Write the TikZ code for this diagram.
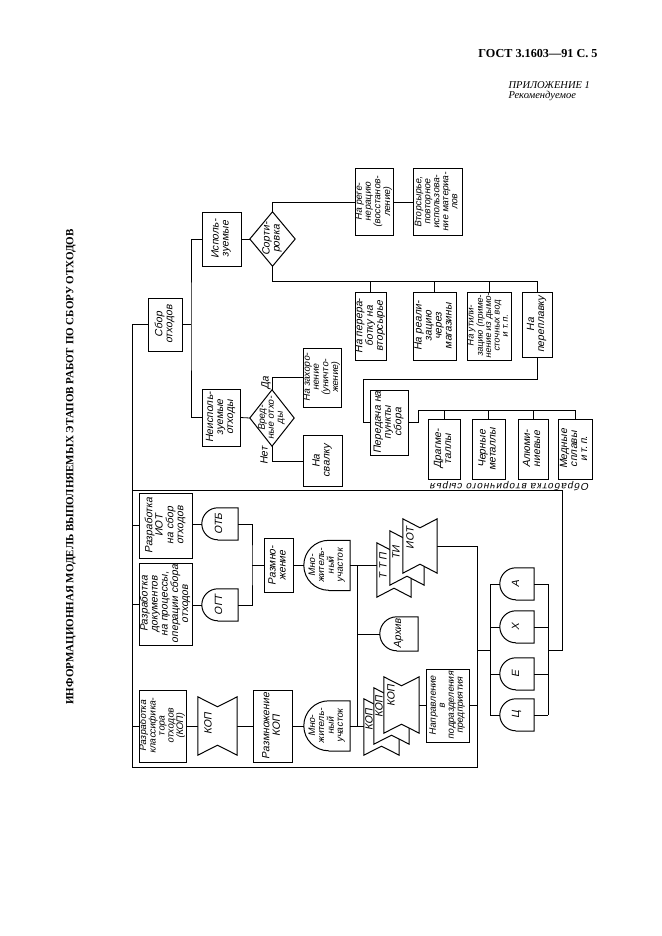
\documentclass[tikz,border=0pt]{standalone}
\usepackage{graphicx}
\usepackage{fontspec}
\setmainfont{Liberation Serif}
\newfontfamily\gost[FakeSlant=0.2]{Liberation Sans}
\newfontfamily\gostsp[FakeSlant=0.2,LetterSpace=10]{Liberation Sans}
\usetikzlibrary{calc}
\newcommand\rt[1]{\rotatebox{90}{\begin{tabular}{@{}c@{}}#1\end{tabular}}}
\newcommand\gateD[2]{\draw[shp] ([xshift=#2pt]#1.south west) -- (#1.south east) -- (#1.north east) -- ([xshift=#2pt]#1.north west) arc[start angle=90,end angle=270,radius=#2pt];}
\newcommand\bowsh[2]{\draw[shp,fill=white] (#1.north west) -- ([yshift=-#2pt]#1.north) -- (#1.north east) -- (#1.south east) -- ([yshift=#2pt]#1.south) -- (#1.south west) -- cycle;}
\newcommand\diam[1]{\draw[shp] (#1.north) -- (#1.east) -- (#1.south) -- (#1.west) -- cycle;}
\tikzset{
  ln/.style={line width=0.8pt},
  shp/.style={line width=1pt},
  box/.style={draw, line width=1pt, inner sep=0pt, font=\gost\fontsize{10.5}{10}\selectfont},
  bare/.style={inner sep=0pt, font=\gost\fontsize{10.5}{10}\selectfont},
  small/.style={font=\gost\fontsize{9.5}{9}\selectfont},
  tiny/.style={font=\gost\fontsize{9}{8.4}\selectfont},
  lbl/.style={inner sep=0pt, rotate=90, font=\gost\fontsize{10.5}{10}\selectfont},
  sz/.style 2 args={minimum width=#1pt, minimum height=#2pt},
}
\begin{document}
\begin{tikzpicture}[x=1pt,y=1pt]
\fill[white] (0,0) rectangle (661,-936);
\useasboundingbox (0,0) rectangle (661,-936);

% header
\node[font=\bfseries\fontsize{12.2}{14}\selectfont] (gost) at (538,-54) {ГОСТ 3.1603—91 С. 5};
\node[font=\itshape\fontsize{10.5}{12}\selectfont, anchor=west] (pril) at (505,-85) {ПРИЛОЖЕНИЕ 1};
\node[font=\itshape\fontsize{10.5}{12}\selectfont, anchor=west] (rek) at (505,-95.5) {Рекомендуемое};
\node[font=\bfseries\fontsize{11}{13}\selectfont, rotate=90] (title) at (71,-467) {ИНФОРМАЦИОННАЯ МОДЕЛЬ ВЫПОЛНЯЕМЫХ ЭТАПОВ РАБОТ ПО СБОРУ ОТХОДОВ};

% upper part
\node[box,sz={34}{53}] (sbor) at (165,-324.5) {\rt{Сбор\\отходов}};
\node[box,sz={39}{54}] (isp) at (221.5,-239) {\rt{Исполь-\\зуемые}};
\node[bare,sz={45}{54}] (sort) at (272.5,-239) {\rt{Сорти-\\ровка}};
\node[box,small,sz={38}{66}] (regen) at (374,-202) {\rt{На реге-\\нерацию\\(восстанов-\\ление)}};
\node[box,small,sz={49}{66}] (vtor) at (437.5,-202) {\rt{Вторсырье,\\повторное\\использова-\\ние материа-\\лов}};
\node[box,sz={31}{68}] (pererab) at (370.5,-326) {\rt{На перера-\\ботку на\\вторсырье}};
\node[box,sz={43}{68}] (real) at (434.5,-326) {\rt{На реали-\\зацию\\через\\магазины}};
\node[box,tiny,sz={44}{68}] (util) at (489,-326) {\rt{На утили-\\зацию (приме-\\нение из дымо-\\сточных вод\\и т.\,п.}};
\node[box,sz={30}{65}] (pereplav) at (537,-324.5) {\rt{На\\переплавку}};
\node[box,sz={38}{57}] (neisp) at (221,-417.5) {\rt{Неисполь-\\зуемые\\отходы}};
\node[bare,small,sz={44}{56}] (vred) at (272,-418) {\rt{Вред-\\ные отхо-\\ды}};
\node[box,small,sz={38}{59}] (zahor) at (322,-377.5) {\rt{На захоро-\\нение\\(уничто-\\жение)}};
\node[box,sz={39}{51}] (svalka) at (322.5,-461) {\rt{На\\свалку}};
\node[box,sz={38}{65}] (pered) at (389,-422.5) {\rt{Передача на\\пункты\\сбора}};
\node[box,sz={32}{60}] (drag) at (444,-449) {\rt{Драгме-\\таллы}};
\node[box,sz={33}{60}] (cher) at (488.5,-449) {\rt{Черные\\металлы}};
\node[box,sz={30}{60}] (alum) at (533,-449) {\rt{Алюми-\\ниевые}};
\node[box,sz={34}{60}] (med) at (575,-449) {\rt{Медные\\сплавы\\и т.\,п.}};
\node[lbl] (da) at (266,-383) {Да};
\node[lbl] (net) at (264,-456) {Нет};
\node[inner sep=0pt, rotate=180, font=\gostsp\fontsize{10}{12}\selectfont] (obr) at (510,-486.5) {Обработка вторичного сырья};

% lower part
\node[box,sz={53}{65}] (razIOT) at (165.5,-525.5) {\rt{Разработка\\ИОТ\\на сбор\\отходов}};
\node[box,sz={53}{82}] (razDoc) at (165.5,-604) {\rt{Разработка\\документов\\на процессы,\\операции сбора\\отходов}};
\node[bare,sz={36}{32}] (otb) at (220,-524) {\rt{ОТБ}};
\node[bare,sz={36}{32}] (ogt) at (220,-605) {\rt{ОГТ}};
\node[box,sz={29}{54}] (razmn) at (278.5,-565.5) {\rt{Размно-\\жение}};
\node[bare,small,sz={46}{50}] (mnog1) at (327,-565.5) {\rt{Мно-\\житель-\\ный\\участок}};
\node[bare,sz={34}{54}] (ttp) at (394,-570) {};
\node[bare,sz={34}{54}] (ti) at (407,-558) {};
\node[bare,sz={34}{54}] (iot) at (420,-546) {};
\node[bare,sz={38}{34}] (arhiv) at (399,-634) {\rt{Архив}};
\node[bare,sz={34}{32}] (gA) at (517,-584) {\rt{А}};
\node[bare,sz={34}{32}] (gX) at (517,-627) {\rt{Х}};
\node[bare,sz={34}{32}] (gE) at (517,-674) {\rt{Е}};
\node[bare,sz={34}{32}] (gC) at (517,-715) {\rt{Ц}};
\node[box,small,sz={47}{72}] (razKl) at (162.5,-726) {\rt{Разработка\\классифика-\\тора\\отходов\\(КОП)}};
\node[bare,sz={39}{58}] (kop1) at (217.5,-726) {};
\node[box,sz={39}{72}] (razmnK) at (272.5,-726) {\rt{Размножение\\КОП}};
\node[bare,small,sz={46}{50}] (mnog2) at (327,-726) {\rt{Мно-\\житель-\\ный\\участок}};
\node[bare,sz={35}{56}] (kopB) at (381.5,-727) {};
\node[bare,sz={35}{56}] (kopM) at (391.5,-716) {};
\node[bare,sz={35}{56}] (kopF) at (401.5,-705) {};
\node[box,small,sz={43}{73}] (napr) at (447.5,-705.5) {\rt{Направление\\в\\подразделения\\предприятия}};

% connectors upper
\coordinate (tr) at (191,0);
\draw[ln] (isp.west) -| (tr |- sbor.east) |- (neisp.west);
\draw[ln] (sbor.east) -- (tr |- sbor.east);
\draw[ln] (isp.east) -- (sort.west);
\draw[ln] (sort.north) |- (regen.west);
\draw[ln] (regen.east) -- (vtor.west);
\coordinate (b1) at (0,-281);
\draw[ln] (sort.south) |- (pereplav.north |- b1) -- (pereplav.north);
\foreach \n in {pererab,real,util} \draw[ln] (\n.north) -- (\n.north |- b1);
\coordinate (c1) at (363,-379);
\draw[ln] (pereplav.south) |- (c1) |- (pered.west);
\coordinate (c2) at (418,-410);
\draw[ln] (pered.east) -| (c2) -| (med.north);
\foreach \n in {drag,cher,alum} \draw[ln] (\n.north) -- (\n.north |- c2);
\draw[ln] (neisp.east) -- (vred.west);
\draw[ln] (vred.north) |- (zahor.west);
\draw[ln] (vred.south) |- (svalka.west);

% frame
\coordinate (fL) at (132,-490);
\coordinate (fB) at (132,-767);
\coordinate (fR) at (477,-767);
\coordinate (fT) at (562,-490);
\coordinate (gbL) at (490,-650);
\coordinate (gbR) at (548,-650);
\draw[ln] (sbor.west) -| (fB) -- (fR) |- (iot.east);
\draw[ln] (fL) -- (fT) |- (gbR);
\draw[ln] (fR |- gbL) -- (gbL);
\draw[ln] (gbL |- gA.west) -- (gbL |- gC.west);
\draw[ln] (gbR |- gA.east) -- (gbR |- gC.east);
\foreach \g in {gA,gX,gE,gC} {\draw[ln] (\g.west) -- (\g.west -| gbL); \draw[ln] (\g.east) -- (\g.east -| gbR);}
\draw[ln] (napr.east) -- (napr.east -| fR);
\foreach \n in {razIOT,razDoc,razKl} \draw[ln] (\n.west) -- (\n.west -| fB);

% connectors lower
\draw[ln] (razIOT.east |- otb.west) -- (otb.west);
\draw[ln] (razDoc.east |- ogt.west) -- (ogt.west);
\coordinate (j1) at (252,-565.5);
\draw[ln] (otb.east) -| (j1) |- (ogt.east);
\draw[ln] (j1) -- (razmn.west);
\draw[ln] (razmn.east) -- (mnog1.west);
\coordinate (j2) at (357,-565.5);
\draw[ln] (mnog1.east) -- (ttp.west |- mnog1.east);
\draw[ln] (j2) -- (j2 |- mnog2.east);
\draw[ln] (j2 |- arhiv.west) -- (arhiv.west);
\draw[ln] (razKl.east) -- (kop1.west);
\draw[ln] (kop1.east) -- (razmnK.west);
\draw[ln] (razmnK.east) -- (mnog2.west);
\draw[ln] (mnog2.east) -- (kopB.west |- mnog2.east);
\draw[ln] (kopF.east) -- (napr.west |- kopF.east);

% shapes
\diam{sort}
\diam{vred}
\gateD{otb}{16}
\gateD{ogt}{16}
\gateD{mnog1}{25}
\gateD{mnog2}{25}
\gateD{arhiv}{17}
\gateD{gA}{16}
\gateD{gX}{16}
\gateD{gE}{16}
\gateD{gC}{16}
\bowsh{kop1}{10}
\bowsh{ttp}{9}
\bowsh{ti}{9}
\bowsh{iot}{9}
\bowsh{kopB}{9}
\bowsh{kopM}{9}
\bowsh{kopF}{9}

% shape texts
\node[lbl] (kop1T) at (208,-724) {КОП};
\node[lbl] (ttpT) at (383,-566) {Т Т П};
\node[lbl] (tiT) at (396,-553) {ТИ};
\node[lbl] (iotT) at (410,-538) {ИОТ};
\node[lbl] (kopBT) at (369,-720) {КОП};
\node[lbl] (kopMT) at (379,-707) {КОП};
\node[lbl] (kopFT) at (391,-696) {КОП};
\end{tikzpicture}
\end{document}
